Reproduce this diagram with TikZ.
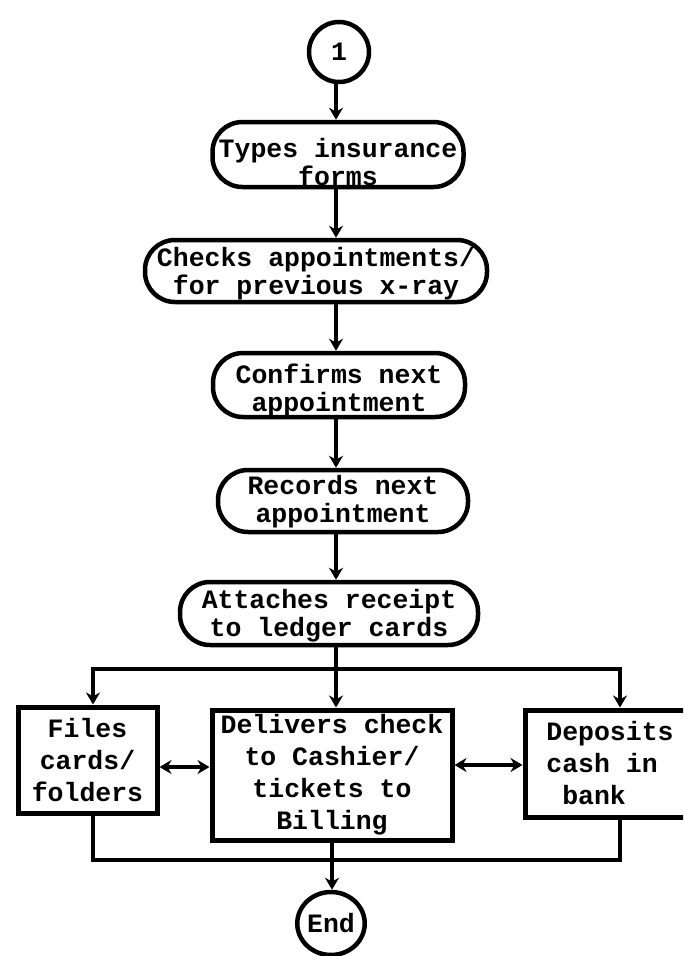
\documentclass[tikz,border=0pt]{standalone}
\usepackage{fontspec}
\newfontfamily\typewriter{Liberation Mono}
\usetikzlibrary{arrows.meta,shapes.geometric}
% invisible strut that lowers the text block inside a fixed-size node
\newcommand\sinkby[1]{\rule{0pt}{#1}}
\begin{document}
\begin{tikzpicture}[x=1pt,y=-1pt,
  every node/.style={inner sep=0pt},
  oval/.style={draw, line width=4.5pt, rounded corners=30pt, align=center,
    font=\typewriter\bfseries\fontsize{26.5}{28}\selectfont},
  card/.style={draw, line width=5pt, align=center,
    font=\typewriter\bfseries\fontsize{26.5}{32}\selectfont},
  terminal/.style={draw, line width=4.5pt,
    font=\typewriter\bfseries\fontsize{26.5}{28}\selectfont},
  wire/.style={line width=4.5pt},
  flow/.style={wire, -{Stealth[length=12pt,width=14pt]}},
  twoway/.style={wire, {Stealth[length=12pt,width=14pt]}-{Stealth[length=12pt,width=14pt]}}]
\useasboundingbox (0,0) rectangle (683,956);
\clip (0,0) rectangle (683,956);
\fill[white] (0,0) rectangle (683,956);

% main column of steps
\node[terminal, circle, minimum size=60pt] (start) at (339,52) {1};
\node[oval, minimum width=251pt, minimum height=65pt] (b1) at (338,154.5) {\sinkby{34pt}Types insurance\\forms};
\node[oval, minimum width=342pt, minimum height=62pt] (b2) at (316,271) {\sinkby{25pt}Checks appointments/\\for previous x-ray};
\node[oval, minimum width=252pt, minimum height=64pt] (b3) at (339,385) {\sinkby{30pt}Confirms next\\appointment};
\node[oval, minimum width=250pt, minimum height=62pt] (b4) at (343,501) {\sinkby{21pt}Records next\\appointment};
\node[oval, minimum width=298pt, minimum height=63pt] (b5) at (329,613.5) {\sinkby{23pt}Attaches receipt\\to ledger cards};

% three parallel tasks
\node[card, minimum width=139pt, minimum height=106pt] (files) at (87.5,760) {Files\\cards/\\folders};
\node[card, minimum width=240pt, minimum height=130pt] (deliv) at (332,775) {Delivers check\\to Cashier/\\tickets to\\Billing};
\node[card, minimum width=170pt, minimum height=107pt, align=left] (depos) at (610,763.5) {Deposits\\cash in\\\ bank};

\node[terminal, ellipse, minimum width=58pt, minimum height=63pt] (fin) at (331,923.5) {End};

% connectors
\coordinate (spine) at (336,0);
\draw[flow] (spine |- start.south) -- (spine |- b1.north);
\draw[flow] (spine |- b1.south) -- (spine |- b2.north);
\draw[flow] (spine |- b2.south) -- (spine |- b3.north);
\draw[flow] (spine |- b3.south) -- (spine |- b4.north);
\draw[flow] (spine |- b4.south) -- (spine |- b5.north);

\coordinate (split) at (336,669);
\coordinate (merge) at (333,860);
\draw[wire] (spine |- b5.south) -- (split);
\draw[flow] (split) -- (split |- deliv.north);
\draw[flow] (split) -| ([xshift=5.5pt]files.north);
\draw[flow] (split) -| ([xshift=10pt]depos.north);
\draw[wire] ([xshift=5.5pt]files.south) |- (merge) -| ([xshift=10pt]depos.south);
\draw[flow] (deliv.south) -- (deliv.south |- fin.north);

\draw[twoway] ([yshift=-7pt]files.east) -- ([yshift=-7pt]files.east -| deliv.west);
\draw[twoway] ([yshift=-1.5pt]depos.west -| deliv.east) -- ([yshift=-1.5pt]depos.west);
\end{tikzpicture}
\end{document}
